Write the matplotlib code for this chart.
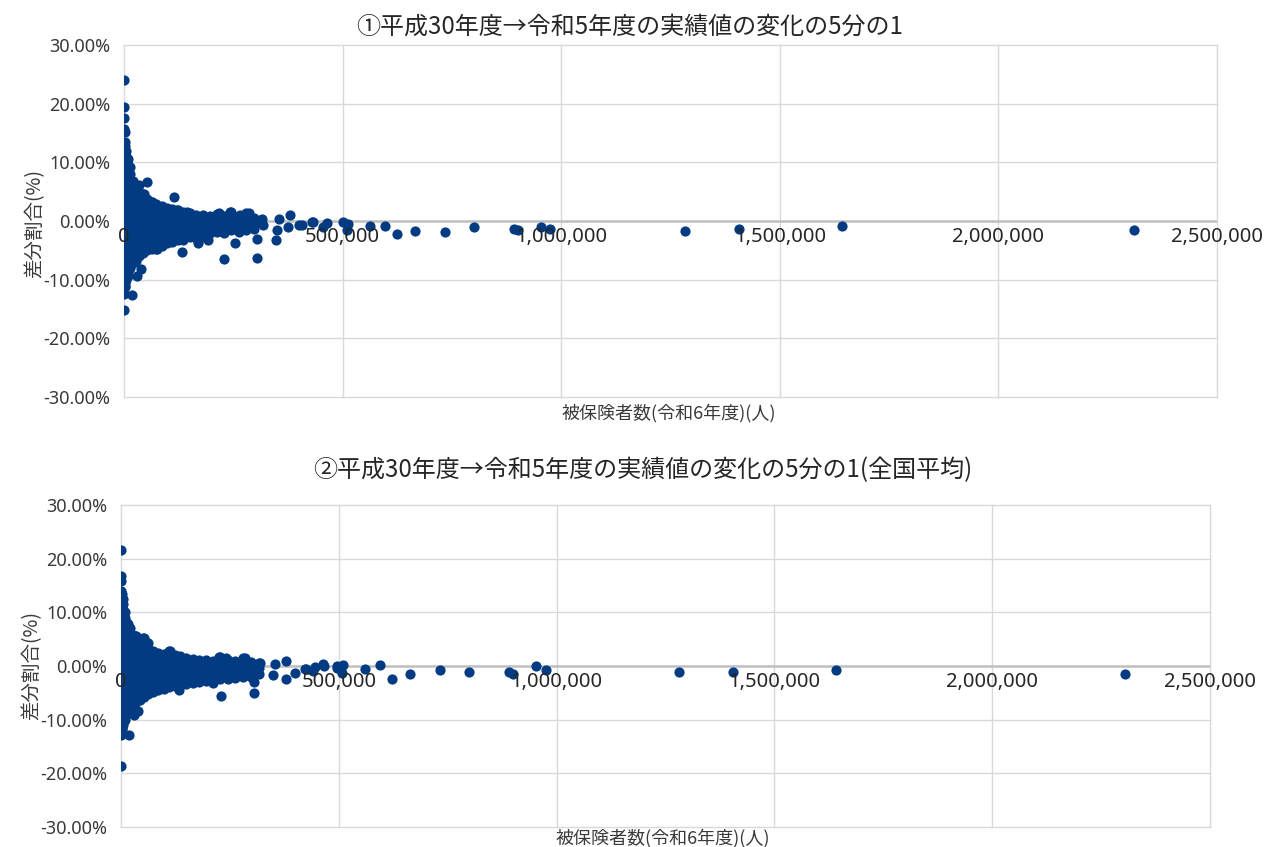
import matplotlib
matplotlib.use("Agg")
import matplotlib.pyplot as plt

plt.rcParams['font.family'] = ['Noto Sans CJK JP', 'DejaVu Sans']
NUMFONT = ['Noto Sans', 'Noto Sans CJK JP', 'DejaVu Sans']

titles = ["①平成30年度→令和5年度の実績値の変化の5分の1",
          "②平成30年度→令和5年度の実績値の変化の5分の1(全国平均)"]
xlabel = "被保険者数(令和6年度)(人)"
ylabel = "差分割合(%)"
xticks = [0, 500000, 1000000, 1500000, 2000000, 2500000]
xtick_labels = ["0", "500,000", "1,000,000", "1,500,000", "2,000,000", "2,500,000"]
yticks = [-30, -20, -10, 0, 10, 20, 30]
ytick_labels = ["-30.00%", "-20.00%", "-10.00%", "0.00%", "10.00%", "20.00%", "30.00%"]

# ---- chart 1: dense cluster (x of each column, y values in %) ----
c1_x = [1500, 5000, 9000, 14000, 20000, 27000, 35000, 44000, 53000, 63000,
        74000, 86000, 98000, 110000, 123000, 136000, 150000, 165000, 180000,
        196000, 212000, 228000, 245000, 262000, 280000, 298000]
c1_y = [
    [13.5, 12.7, 11.9, 11.1, 10.3, 9.5, 8.7, 7.9, 7.1, 6.3, 5.5, 4.7, 3.9, 3.1, 2.3, 1.5, 0.7,
     -0.1, -0.9, -1.7, -2.5, -3.3, -4.1, -4.9, -5.7, -6.5, -7.3, -8.1, -8.9, -9.7, -10.5, -11.2],
    [12.0, 11.0, 10.0, 9.0, 8.0, 7.0, 6.0, 5.0, 4.0, 3.0, 2.0, 1.0, 0.0, -1.0, -2.0, -3.0,
     -4.0, -5.0, -6.0, -7.0, -8.0, -9.0, -10.0],
    [10.5, 9.5, 8.5, 7.5, 6.5, 5.5, 4.5, 3.5, 2.5, 1.5, 0.5, -0.5, -1.5, -2.5, -3.5, -4.5,
     -5.5, -6.5, -7.5, -8.5, -9.3],
    [9.2, 8.0, 7.0, 6.0, 5.0, 4.0, 3.0, 2.0, 1.0, 0.0, -1.0, -2.0, -3.0, -4.0, -5.0, -6.0, -7.0, -8.0],
    [6.8, 5.8, 4.8, 3.8, 2.8, 1.8, 0.8, -0.2, -1.2, -2.2, -3.2, -4.2, -5.2, -6.2, -7.2],
    [6.0, 5.0, 4.0, 3.0, 2.0, 1.0, 0.0, -1.0, -2.0, -3.0, -4.0, -5.0, -6.0, -6.8],
    [6.2, 5.0, 4.0, 3.0, 2.0, 1.0, 0.0, -1.0, -2.0, -3.0, -4.0, -5.0, -6.0],
    [4.6, 3.6, 2.6, 1.6, 0.6, -0.4, -1.4, -2.4, -3.4, -4.4, -5.4],
    [6.6, 3.8, 2.8, 1.8, 0.8, -0.2, -1.2, -2.2, -3.2, -4.2, -5.0],
    [3.2, 2.2, 1.2, 0.2, -0.8, -1.8, -2.8, -3.8, -4.7],
    [2.9, 1.9, 0.9, -0.1, -1.1, -2.1, -3.1, -4.1, -4.8],
    [2.5, 1.5, 0.5, -0.5, -1.5, -2.5, -3.5, -4.3],
    [2.2, 1.2, 0.2, -0.8, -1.8, -2.8, -3.8],
    [2.0, 1.0, 0.0, -1.0, -2.0, -3.0, -3.6],
    [1.8, 0.8, -0.2, -1.2, -2.2, -3.2],
    [1.5, 0.5, -0.5, -1.5, -2.5, -3.2],
    [1.3, 0.3, -0.7, -1.7, -2.7],
    [1.1, 0.1, -0.9, -1.9, -2.9],
    [1.0, 0.0, -1.0, -2.0, -2.8],
    [0.9, -0.1, -1.1, -2.1],
    [1.2, 0.2, -0.8, -1.8],
    [0.9, -0.1, -1.1, -2.0],
    [1.5, 0.5, -0.5, -1.5],
    [0.9, -0.1, -1.1, -1.8],
    [1.3, 0.3, -0.7, -1.5],
    [0.5, -0.5, -1.3],
]
# ---- chart 1: individual points ----
p1_x = [1000, 1000, 1000, 1000, 2000, 1000, 1000, 17500, 3000, 29000, 38000, 46000,
        114000, 132000, 228000, 304000, 304000, 253000, 348000, 169000, 192000, 76000,
        217000, 242000, 266000, 285000, 316000, 354000, 380000, 400000, 406000, 432000,
        464000, 500000, 512000, 510000, 563000, 596000, 624000, 665000, 734000, 800000,
        892000, 901000, 954000, 975000, 1283000, 1407000, 1642000, 2310000, 350000,
        376000, 319000, 297000, 145000, 122000, 80000, 65000, 430000, 455000]
p1_y = [24.0, 19.4, 17.6, 15.6, 15.1, -12.4, -15.1, -12.6, -11.0, -9.3, -8.2, 4.6,
        4.1, -5.3, -6.4, -6.3, -3.0, -3.8, -3.2, -3.7, -3.2, -4.7,
        1.4, 1.5, 1.0, 1.4, 0.3, 0.4, 1.1, -0.6, -0.7, -0.2,
        -0.4, -0.2, -0.5, -1.6, -0.9, -0.9, -2.3, -1.7, -1.9, -1.1,
        -1.3, -1.5, -1.0, -1.3, -1.7, -1.3, -0.9, -1.5, -1.5,
        -1.0, -0.7, -0.7, 1.5, 1.8, 2.4, 3.2, -0.2, -1.0]

# ---- chart 2: dense cluster ----
c2_x = [1500, 5000, 9000, 14000, 20000, 27000, 35000, 44000, 53000, 63000,
        74000, 86000, 98000, 110000, 123000, 136000, 150000, 165000, 180000,
        196000, 212000, 228000, 245000, 262000, 280000, 298000, 316000]
c2_y = [
    [13.5, 12.7, 11.9, 11.1, 10.3, 9.5, 8.7, 7.9, 7.1, 6.3, 5.5, 4.7, 3.9, 3.1, 2.3, 1.5, 0.7,
     -0.1, -0.9, -1.7, -2.5, -3.3, -4.1, -4.9, -5.7, -6.5, -7.3, -8.1, -8.9, -9.7, -10.5, -11.3, -12.0],
    [12.5, 11.5, 10.5, 9.5, 8.5, 7.5, 6.5, 5.5, 4.5, 3.5, 2.5, 1.5, 0.5, -0.5, -1.5, -2.5,
     -3.5, -4.5, -5.5, -6.5, -7.5, -8.5, -9.5, -10.5, -11.0],
    [10.0, 9.0, 8.0, 7.0, 6.0, 5.0, 4.0, 3.0, 2.0, 1.0, 0.0, -1.0, -2.0, -3.0, -4.0, -5.0,
     -6.0, -7.0, -8.0, -9.0, -10.0],
    [8.0, 7.0, 6.0, 5.0, 4.0, 3.0, 2.0, 1.0, 0.0, -1.0, -2.0, -3.0, -4.0, -5.0, -6.0, -7.0, -8.0, -9.0],
    [7.0, 6.0, 5.0, 4.0, 3.0, 2.0, 1.0, 0.0, -1.0, -2.0, -3.0, -4.0, -5.0, -6.0, -7.0, -8.0],
    [5.8, 4.8, 3.8, 2.8, 1.8, 0.8, -0.2, -1.2, -2.2, -3.2, -4.2, -5.2, -6.2, -7.2],
    [5.6, 4.6, 3.6, 2.6, 1.6, 0.6, -0.4, -1.4, -2.4, -3.4, -4.4, -5.4, -6.4, -6.8],
    [4.8, 3.8, 2.8, 1.8, 0.8, -0.2, -1.2, -2.2, -3.2, -4.2, -5.2, -6.0, -6.4],
    [5.2, 4.2, 3.2, 2.2, 1.2, 0.2, -0.8, -1.8, -2.8, -3.8, -4.8, -5.8],
    [4.2, 3.2, 2.2, 1.2, 0.2, -0.8, -1.8, -2.8, -3.8, -4.8, -5.2],
    [2.8, 1.8, 0.8, -0.2, -1.2, -2.2, -3.2, -4.2, -4.8],
    [2.5, 1.5, 0.5, -0.5, -1.5, -2.5, -3.5, -4.5],
    [2.3, 1.3, 0.3, -0.7, -1.7, -2.7, -3.7, -4.2],
    [2.75, 1.8, 0.8, -0.2, -1.2, -2.2, -3.2, -4.0],
    [2.0, 1.0, 0.0, -1.0, -2.0, -3.0, -3.8],
    [1.8, 0.8, -0.2, -1.2, -2.2, -3.2, -3.5],
    [1.5, 0.5, -0.5, -1.5, -2.5, -3.3],
    [1.3, 0.3, -0.7, -1.7, -2.7, -3.1],
    [1.1, 0.1, -0.9, -1.9, -3.0],
    [1.1, 0.1, -0.9, -1.9, -2.8],
    [1.0, 0.0, -1.0, -2.0, -2.7],
    [1.7, 0.7, -0.3, -1.3, -2.5],
    [1.2, 0.2, -0.8, -1.8, -2.4],
    [1.0, 0.0, -1.0, -2.0, -2.3],
    [1.4, 0.4, -0.6, -1.6, -2.1],
    [0.8, -0.2, -1.2, -2.0],
    [0.6, -0.4, -1.4],
]
# ---- chart 2: individual points ----
p2_x = [1000, 1000, 1000, 1000, 1000, 1000, 19000, 3000, 29000, 39000, 16000, 33000,
        50000, 60000, 113000, 134000, 229000, 305000, 305000, 212000, 379000, 399000,
        224000, 241000, 285000, 319000, 353000, 379000, 422000, 445000, 463000, 424000,
        465000, 495000, 510000, 508000, 497000, 561000, 594000, 622000, 663000, 732000,
        799000, 890000, 899000, 953000, 975000, 1281000, 1404000, 1642000, 2305000,
        350000, 304000, 212000, 440000]
p2_y = [21.6, 16.7, 15.75, 13.9, -18.6, -12.8, -12.8, -11.5, -9.2, -8.3, 7.8, 5.6,
        5.2, 4.2, 2.75, -4.4, -5.5, -5.0, -3.0, -3.2, -2.4, -1.25,
        1.7, 1.4, 1.4, 0.6, 0.45, 0.9, -0.5, -0.2, 0.45, -0.5,
        0.0, 0.0, 0.1, -1.3, -0.3, -0.5, 0.1, -2.5, -1.55, -0.75,
        -1.2, -1.2, -1.55, 0.0, -0.75, -1.2, -1.1, -0.8, -1.55,
        -1.75, -1.4, -2.7, -1.0]

MARKER = '#033b83'
GRID = '#d9d9d9'
TXT = '#3a3a3a'

fig = plt.figure(figsize=(12.65, 8.47), dpi=100)
fig.patch.set_facecolor('white')

axes_pos = [[124/1265, 1-397/847, (1217-124)/1265, (397-45)/847],
            [121/1265, 1-827/847, (1210-121)/1265, (827-505)/847]]
title_pos = [(630/1265, 1-27/847), (643/1265, 1-470/847)]
xlabel_pos = [(669/1265, 1-413/847), (663/1265, 1-838/847)]
ylabel_pos = [(35/1265, 1-224/847), (32/1265, 1-665/847)]
clusters = [(c1_x, c1_y, p1_x, p1_y), (c2_x, c2_y, p2_x, p2_y)]

for i in range(2):
    ax = fig.add_axes(axes_pos[i])
    cx, cy, px, py = clusters[i]
    xs, ys = [], []
    for xv, col in zip(cx, cy):
        for yv in col:
            xs.append(xv)
            ys.append(yv)
    xs += px
    ys += py
    ax.scatter(xs, [v / 100 for v in ys], s=54, color=MARKER, linewidths=0, zorder=3)
    ax.set_xlim(0, 2500000)
    ax.set_ylim(-0.30, 0.30)
    for s in ax.spines.values():
        s.set_visible(False)
    for yv in yticks:
        if yv != 0:
            ax.axhline(yv / 100, color=GRID, lw=1.0, zorder=0, clip_on=False)
    ax.axhline(0, color='#bfbfbf', lw=1.8, zorder=1)
    for xv in xticks:
        ax.axvline(xv, color=GRID, lw=1.0, zorder=0, clip_on=False)
    ax.set_xticks([])
    ax.set_yticks([v / 100 for v in yticks])
    ax.set_yticklabels(ytick_labels, fontsize=13, color=TXT, family=NUMFONT)
    ax.tick_params(axis='y', length=0, pad=10)
    for xv, lab in zip(xticks, xtick_labels):
        ax.annotate(lab, (xv, 0), xytext=(0, -4), textcoords='offset points',
                    ha='center', va='top', fontsize=14.5, color='#262626',
                    family=NUMFONT, zorder=5, annotation_clip=False)
    fig.text(*title_pos[i], titles[i], ha='center', va='center', fontsize=17.3, color='#262626')
    fig.text(*xlabel_pos[i], xlabel, ha='center', va='center', fontsize=13, color=TXT)
    fig.text(*ylabel_pos[i], ylabel, ha='center', va='center', rotation=90, fontsize=14, color=TXT)

fig.savefig('out.png', dpi=100)
